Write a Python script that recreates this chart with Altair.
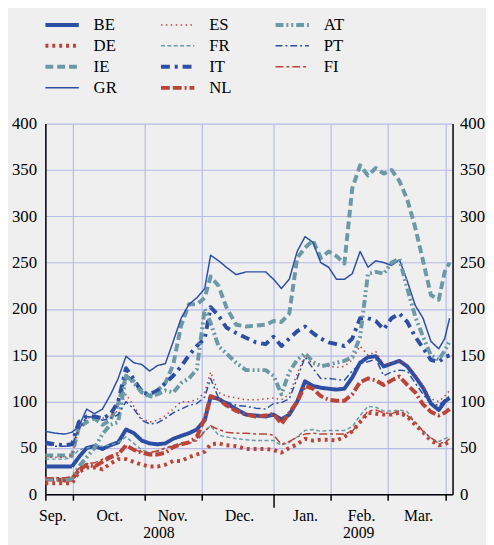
import altair as alt
import pandas as pd

# ---------------- data ----------------
# time index (1 unit ~ 2 px of the original x axis)
t = [0, 5, 10, 13.5, 17, 21, 25, 29, 33, 37, 41, 45, 49, 53, 57, 61, 65, 69, 73, 77,
     81, 84, 88, 92, 97, 102, 107, 112, 116, 120, 124, 128, 132, 136, 140, 144, 148,
     152, 156, 160, 164, 168, 172, 176, 180, 184, 188, 192, 196, 200, 203, 205.5]

BE = [30, 30, 30, 30, 40, 50, 52, 49, 53, 56, 70, 66, 58, 55, 54, 55, 60, 63, 66, 70,
      80, 105, 103, 98, 92, 86, 85, 84, 86, 81, 86, 100, 122, 117, 115, 114, 113, 114,
      126, 142, 148, 149, 138, 141, 144, 138, 127, 115, 98, 91, 100, 104]
DE = [12, 12, 12, 12, 24, 29, 29, 27, 33, 38, 38, 35, 32, 30, 30, 32, 36, 36, 40, 43,
      46, 54, 55, 53, 52, 49, 49, 49, 48, 45, 50, 54, 60, 58, 59, 59, 58, 62, 68, 78,
      88, 87, 86, 86, 88, 84, 75, 67, 58, 53, 54, 57]
IE = [42, 42, 42, 42, 72, 78, 82, 75, 80, 98, 127, 122, 112, 106, 112, 120, 140, 182,
      205, 205, 212, 235, 225, 202, 183, 181, 182, 183, 187, 186, 195, 255, 266, 274,
      255, 262, 257, 249, 330, 355, 344, 352, 346, 350, 338, 318, 288, 252, 215, 210,
      240, 250]
GR = [68, 66, 65, 67, 73, 92, 87, 92, 107, 125, 149, 142, 140, 133, 139, 141, 165, 190,
      205, 212, 222, 258, 252, 245, 237, 240, 240, 240, 232, 222, 232, 262, 278, 272,
      250, 245, 232, 232, 238, 262, 245, 252, 250, 247, 253, 230, 204, 190, 165, 157,
      168, 190]
ES = [40, 40, 40, 42, 70, 82, 84, 82, 85, 90, 108, 95, 82, 78, 80, 85, 92, 100, 100,
      102, 110, 132, 110, 106, 104, 102, 102, 103, 104, 102, 108, 130, 150, 140, 141,
      138, 137, 138, 145, 160, 150, 154, 140, 142, 144, 140, 130, 117, 103, 100, 106, 112]
FR = [38, 38, 38, 40, 48, 50, 52, 52, 53, 56, 62, 55, 48, 45, 46, 50, 53, 55, 56, 60,
      68, 74, 64, 62, 60, 59, 58, 58, 58, 53, 56, 62, 69, 70, 68, 69, 69, 69, 73, 85,
      95, 94, 90, 90, 91, 89, 78, 68, 60, 57, 60, 62]
IT = [56, 54, 53, 54, 78, 84, 84, 82, 86, 100, 136, 124, 110, 108, 112, 120, 128, 138,
      150, 160, 168, 202, 193, 180, 174, 169, 164, 162, 170, 160, 168, 176, 181, 174,
      168, 164, 162, 160, 168, 190, 190, 187, 178, 190, 195, 186, 170, 158, 145, 143,
      148, 150]
NL = [16, 16, 15, 16, 26, 32, 30, 35, 40, 43, 53, 48, 45, 43, 43, 45, 51, 54, 56, 62,
      82, 106, 103, 96, 90, 86, 84, 85, 87, 76, 88, 100, 117, 114, 106, 102, 101, 101,
      108, 121, 125, 123, 118, 123, 127, 118, 110, 97, 89, 85, 88, 92]
AT = [17, 16, 16, 17, 30, 40, 50, 65, 75, 78, 128, 120, 110, 105, 108, 112, 110, 120,
      125, 135, 200, 185, 160, 152, 142, 134, 134, 134, 128, 108, 132, 145, 152, 143,
      138, 140, 142, 144, 148, 170, 238, 240, 238, 250, 254, 222, 192, 170, 150, 145,
      155, 165]
PT = [54, 52, 52, 53, 70, 84, 83, 80, 82, 86, 100, 92, 80, 76, 77, 82, 88, 92, 96, 98,
      105, 125, 104, 100, 96, 95, 93, 92, 98, 99, 103, 125, 148, 136, 125, 125, 124,
      123, 133, 141, 143, 146, 128, 132, 134, 133, 120, 108, 98, 96, 102, 106]
FI = [18, 18, 18, 19, 28, 33, 34, 38, 42, 45, 52, 48, 46, 45, 47, 50, 52, 54, 55, 58,
      68, 74, 70, 67, 66, 66, 65, 65, 64, 54, 57, 62, 65, 66, 65, 65, 65, 65, 68, 78,
      90, 91, 88, 87, 90, 85, 78, 68, 61, 55, 56, 60]

series_names = ["BE", "DE", "IE", "GR", "ES", "FR", "IT", "NL", "AT", "PT", "FI"]
series_values = [BE, DE, IE, GR, ES, FR, IT, NL, AT, PT, FI]
thin_series = ["GR", "ES", "FR", "PT", "FI"]

# month boundaries, month label positions, year label positions (time index)
month_bounds = [0, 14, 50.5, 79.5, 116, 145, 174, 203.5]
month_names = ["Sep.", "Oct.", "Nov.", "Dec.", "Jan.", "Feb.", "Mar."]
month_pos = [3.5, 32.5, 64.5, 98.5, 132, 160.5, 189.5]
year_names = ["2008", "2009"]
year_pos = [57.5, 159]
year_break = 116
y_ticks = [0, 50, 100, 150, 200, 250, 300, 350, 400]

# ---------------- styles ----------------
BLUE = "#2c4ea5"
RED = "#bb4338"
TEAL = "#6b99a6"
GRID = "#b7bbe6"
FONT = "Liberation Serif, Times New Roman, serif"
THIN, THICK = 1.5, 4

style = {
    "BE": (BLUE, [1, 0]),
    "DE": (RED, [3, 4]),
    "IE": (TEAL, [8, 4]),
    "GR": (BLUE, [1, 0]),
    "ES": (RED, [1.5, 3.5]),
    "FR": (TEAL, [4, 2.5]),
    "IT": (BLUE, [9, 5, 3, 5]),
    "NL": (RED, [9, 3, 9, 3, 2, 3]),
    "AT": (TEAL, [8, 3, 2, 3, 2, 3]),
    "PT": (BLUE, [7, 3, 2, 3]),
    "FI": (RED, [8, 3, 3, 3]),
}

rows = []
for name, vals in zip(series_names, series_values):
    for ti, v in zip(t, vals):
        rows.append({"t": ti, "value": v, "country": name})
df = pd.DataFrame(rows)

months_df = pd.DataFrame({"pos": month_pos, "label": month_names})
years_df = pd.DataFrame({"pos": year_pos, "label": year_names})

xscale = alt.Scale(domain=[0, 207], nice=False, zero=False)
yscale = alt.Scale(domain=[0, 400], nice=False)

thin_list = "[" + ",".join("'" + s + "'" for s in thin_series) + "]"


def lookup_expr(positions, names):
    pos = ",".join(str(p) for p in positions)
    nm = ",".join("'" + n + "'" for n in names)
    return "[" + nm + "][indexof([" + pos + "], datum.value)]"


legend = alt.Legend(
    orient="none", legendX=8.5, legendY=-109, columns=3, title=None,
    symbolType="stroke", symbolSize=1150, labelFont=FONT, labelFontSize=17,
    labelColor="black", labelOffset=23.5, rowPadding=3.4, columnPadding=35.5,
    padding=0, symbolOpacity=1,
    symbolStrokeWidth={"expr": f"indexof({thin_list}, datum.value) >= 0 ? {THIN} : {THICK}"},
)

lines = alt.Chart(df).mark_line(strokeCap="butt", strokeJoin="round").encode(
    x=alt.X("t:Q", scale=xscale, axis=alt.Axis(
        orient="bottom", values=month_bounds, labels=False, title=None,
        ticks=True, tickColor="black", tickWidth=1.5,
        tickSize={"condition": {"test": f"datum.value == {year_break}", "value": 13}, "value": 6},
        domain=True, domainColor="black", domainWidth=1.5,
        grid=True, gridColor=GRID, gridWidth=1.2)),
    y=alt.Y("value:Q", scale=yscale, axis=alt.Axis(
        orient="left", values=y_ticks, title=None, ticks=False,
        labelFont=FONT, labelFontSize=17, labelColor="black", labelPadding=9,
        domain=True, domainColor="black", domainWidth=1.5,
        grid=True, gridColor=GRID, gridWidth=1.2)),
    color=alt.Color("country:N", legend=legend, scale=alt.Scale(
        domain=series_names, range=[style[c][0] for c in series_names])),
    strokeDash=alt.StrokeDash("country:N", scale=alt.Scale(
        domain=series_names, range=[style[c][1] for c in series_names])),
    strokeWidth=alt.condition(
        f"indexof({thin_list}, datum.country) >= 0", alt.value(THIN), alt.value(THICK)),
    order=alt.Order("t:Q"),
)

right_axis = alt.Chart(df).mark_line(opacity=0).encode(
    x=alt.X("t:Q", scale=xscale, axis=None),
    y=alt.Y("value:Q", scale=yscale, axis=alt.Axis(
        orient="right", values=y_ticks, title=None, ticks=False,
        labelFont=FONT, labelFontSize=17, labelColor="black", labelPadding=7,
        domain=True, domainColor="black", domainWidth=1.5, grid=False)),
    detail="country:N",
)

month_axis = alt.Chart(months_df).mark_point(opacity=0).encode(
    x=alt.X("pos:Q", scale=xscale, axis=alt.Axis(
        orient="bottom", values=month_pos, title=None, ticks=False, domain=False,
        grid=False, labelExpr=lookup_expr(month_pos, month_names),
        labelFont=FONT, labelFontSize=16, labelColor="black", labelPadding=14,
        labelOverlap=False, labelFlush=False)),
    y=alt.value(0),
)

year_axis = alt.Chart(years_df).mark_point(opacity=0).encode(
    x=alt.X("pos:Q", scale=xscale, axis=alt.Axis(
        orient="bottom", values=year_pos, title=None, ticks=False, domain=False,
        grid=False, labelExpr=lookup_expr(year_pos, year_names),
        labelFont=FONT, labelFontSize=16, labelColor="black", labelPadding=31,
        labelOverlap=False, labelFlush=False)),
    y=alt.value(0),
)

chart = alt.layer(lines, right_axis, month_axis, year_axis).resolve_scale(
    x="shared", y="shared"
).resolve_axis(
    x="independent", y="independent"
).properties(
    width=414, height=377,
    padding={"left": 38, "top": 113, "right": 34, "bottom": 47},
    autosize=alt.AutoSizeParams(type="none"),
    background="#efefef",
).configure_view(stroke=None)

chart.save("out.html", embed_options={"renderer": "svg", "actions": False})
